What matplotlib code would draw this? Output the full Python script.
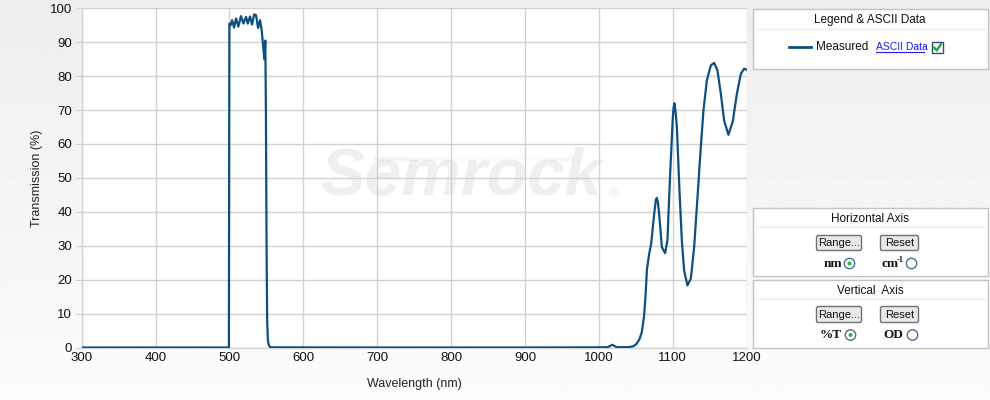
"""Semrock filter spectrum: transmission vs wavelength, with the side control panel."""

import matplotlib.pyplot as plt
import numpy as np
from matplotlib.patches import Circle, FancyBboxPatch, Rectangle

plt.rcParams["font.family"] = ["Liberation Sans", "DejaVu Sans"]

# measured curve
wavelength_nm = [
    300, 495, 499.2, 499.6, 499.9, 501.5, 503.5, 506.2, 508.9, 512.0,
    515.6, 518.8, 522.4, 524.7, 527.8, 530.5, 533.3, 535.9, 538.7, 541.4,
    543.6, 545.5, 547.2, 548.5, 549.3, 550.2, 551.0, 552.0, 553.5, 556,
    700, 900, 1000, 1012, 1018, 1024, 1040, 1047, 1051, 1055,
    1058, 1061, 1063, 1065, 1068, 1070.7, 1074.8, 1077, 1078.4, 1079.8,
    1081.5, 1085.2, 1089.6, 1092.7, 1096.4, 1100, 1101.2, 1102.2, 1103.5, 1105.5,
    1109, 1112.2, 1115.3, 1119.8, 1124.4, 1128.9, 1133.4, 1137.9, 1141.5, 1146.1,
    1151.5, 1156, 1160.4, 1165, 1169.5, 1175.3, 1181.3, 1186.7, 1192.1, 1196.6,
    1200,
]
transmission_pct = [
    0, 0, 0, 60, 95.5, 95.0, 96.5, 94.3, 97.0, 94.6,
    97.7, 95.5, 97.5, 95.5, 97.6, 95.2, 98.2, 98.0, 94.2, 96.5,
    93.5, 89.0, 85.0, 90.5, 70.0, 30.0, 8.0, 2.0, 0.5, 0.05,
    0, 0, 0.05, 0.1, 0.8, 0.1, 0.1, 0.4, 1.1, 2.5,
    4.5, 9.0, 15.0, 23.0, 27.6, 30.6, 39.4, 43.5, 44.1, 42.8,
    39.4, 29.6, 27.8, 31.6, 51.2, 67.9, 71.0, 72.0, 70.0, 65.0,
    46.3, 31.6, 22.7, 18.3, 20.3, 29.6, 44.3, 59.1, 69.9, 78.8,
    83.2, 83.9, 81.7, 74.8, 66.8, 62.7, 66.8, 74.8, 80.7, 82.2,
    81.9,
]

x_ticks = [300, 400, 500, 600, 700, 800, 900, 1000, 1100, 1200]
y_ticks = list(range(0, 101, 10))

LINE = "#0d4f80"
GRID = "#d2d2d2"
BORDER = "#c3c3c3"

fig = plt.figure(figsize=(9.9, 4.0), dpi=100)

# background layer in pixel coordinates (1 unit = 1 px)
bg = fig.add_axes([0, 0, 1, 1])
bg.set_xlim(0, 990)
bg.set_ylim(400, 0)
bg.axis("off")
grad = np.linspace(0.93, 0.99, 256).reshape(-1, 1)
bg.imshow(grad, cmap="gray", vmin=0, vmax=1, aspect="auto",
          extent=(0, 990, 400, 0), zorder=0)

ax = fig.add_axes([81.7 / 990, 1 - 347.5 / 400, 665 / 990, 339.2 / 400])
ax.set_facecolor("white")

# faint watermark
ax.text(0.57, 0.50, "Semrock", transform=ax.transAxes, fontsize=48,
        fontweight="bold", fontstyle="italic", color="#efefef",
        ha="center", va="center", zorder=0)
ax.text(0.80, 0.455, "®", transform=ax.transAxes, fontsize=9,
        color="#ececec", ha="center", va="center", zorder=0)
rainbow = plt.cm.rainbow(np.linspace(0.1, 0.9, 40))
for i, c in enumerate(rainbow):
    x0 = 0.44 + i * 0.0075
    ax.plot([x0, x0 + 0.0075], [0.555, 0.555], transform=ax.transAxes,
            color=c, alpha=0.07, lw=3, solid_capstyle="butt", zorder=0)

ax.plot(wavelength_nm, transmission_pct, color=LINE, lw=1.6, zorder=3)

ax.set_xlim(300, 1200)
ax.set_ylim(0, 100)
ax.set_xticks(x_ticks)
ax.set_yticks(y_ticks)
ax.grid(True, color=GRID, lw=1.0, zorder=1)
ax.set_axisbelow(True)
for side in ("top", "right"):
    ax.spines[side].set_visible(False)
for side in ("left", "bottom"):
    ax.spines[side].set_color(GRID)
    ax.spines[side].set_linewidth(1.0)
ax.tick_params(axis="y", length=5, color=GRID, labelsize=9.5, pad=2,
               labelcolor="#111111")
ax.tick_params(axis="x", length=0, labelsize=9.5, pad=3, labelcolor="#111111")
ax.set_xlabel("Wavelength (nm)", fontsize=9, color="#222222", labelpad=10)
ax.set_ylabel("Transmission (%)", fontsize=9, color="#222222", labelpad=5)


def panel(x0, y0, x1, y1, title, title_y, sep_y):
    bg.add_patch(Rectangle((x0, y0), x1 - x0, y1 - y0, facecolor="white",
                           edgecolor=BORDER, lw=1.0, zorder=2))
    bg.plot([x0 + 3, x1 - 3], [sep_y, sep_y], color="#eeeeee", lw=1, zorder=3)
    bg.text((x0 + x1) / 2, title_y, title, fontsize=8.5, color="#111111",
            ha="center", va="center", zorder=4)


def button(x0, y0, x1, y1, label):
    bg.add_patch(FancyBboxPatch((x0, y0), x1 - x0, y1 - y0,
                                boxstyle="round,pad=0,rounding_size=2",
                                facecolor="#e9e9e9", edgecolor="#707070",
                                lw=1.0, zorder=4))
    bg.text((x0 + x1) / 2, (y0 + y1) / 2 + 0.5, label, fontsize=8,
            color="#111111", ha="center", va="center", zorder=5)


def radio(cx, cy, selected):
    bg.add_patch(Circle((cx, cy), 5.2, facecolor="white",
                        edgecolor="#4a6f95", lw=1.0, zorder=4))
    if selected:
        bg.add_patch(Circle((cx, cy), 2.0, facecolor="#2db24a",
                            edgecolor="none", zorder=5))


serif = ["Liberation Serif", "DejaVu Serif"]

# legend box
panel(752.5, 9, 988, 68.5, "Legend & ASCII Data", 20.5, 29)
bg.plot([789, 811], [46.7, 46.7], color=LINE, lw=2.0, zorder=4)
bg.text(816, 47.5, "Measured", fontsize=8.5, color="#111111",
        ha="left", va="center", zorder=4)
bg.text(876, 46.5, "ASCII Data", fontsize=7.5, color="#1a1aff",
        ha="left", va="center", zorder=4)
bg.plot([876, 924], [52, 52], color="#1a1aff", lw=0.8, zorder=4)
bg.add_patch(Rectangle((931.5, 41.5), 11.5, 11.5, facecolor="white",
                       edgecolor="#2f4f6f", lw=1.0, zorder=4))
bg.plot([934, 936.8, 941], [47.5, 50.5, 44], color="#2aa84a", lw=1.8,
        zorder=5, solid_capstyle="round")

# horizontal axis box
panel(752.5, 207.5, 988, 275.5, "Horizontal Axis", 219.5, 226.7)
button(816.5, 235.5, 861.5, 250.5, "Range...")
button(880.5, 235.5, 918.5, 250.5, "Reset")
bg.text(842, 264, "nm", family=serif, fontweight="bold", fontsize=9.5,
        color="#111111", ha="right", va="center", zorder=4)
radio(849.5, 263.5, True)
bg.text(881, 264, "cm", family=serif, fontweight="bold", fontsize=9.5,
        color="#111111", ha="left", va="center", zorder=4)
bg.text(897, 260, "-1", family=serif, fontweight="bold", fontsize=6,
        color="#111111", ha="left", va="center", zorder=4)
radio(911.5, 263.5, False)

# vertical axis box
panel(752.5, 279.5, 988, 347.5, "Vertical  Axis", 291, 299)
button(816.5, 306.5, 861.5, 322.5, "Range...")
button(880.5, 306.5, 918.5, 322.5, "Reset")
bg.text(842, 335.5, "%T", family=serif, fontweight="bold", fontsize=9.5,
        color="#111111", ha="right", va="center", zorder=4)
radio(850.5, 335, True)
bg.text(903, 335.5, "OD", family=serif, fontweight="bold", fontsize=9.5,
        color="#111111", ha="right", va="center", zorder=4)
radio(912.5, 335, False)

fig.savefig("out.png", dpi=100)
